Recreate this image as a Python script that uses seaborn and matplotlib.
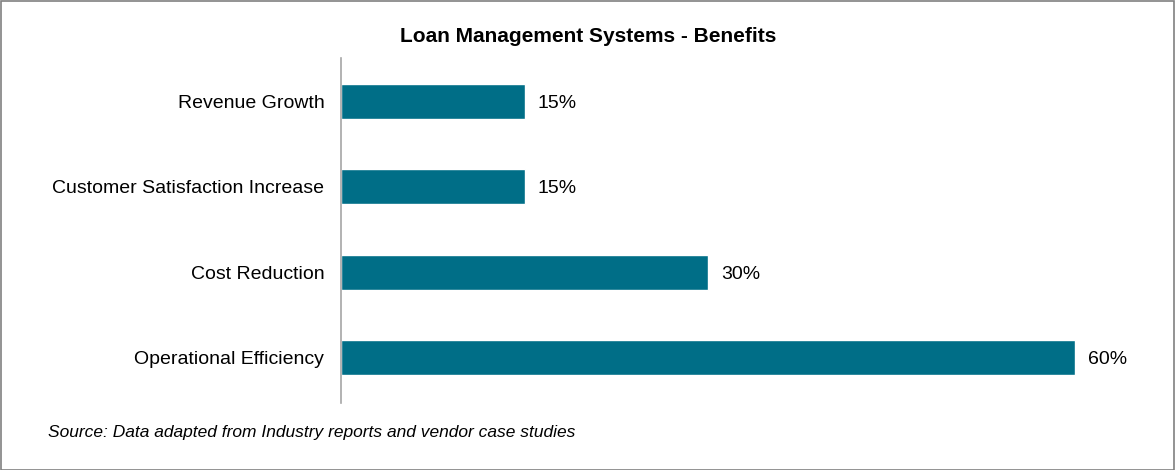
import matplotlib
matplotlib.use("Agg")
import matplotlib.pyplot as plt
import seaborn as sns
import pandas as pd

categories = ["Revenue Growth", "Customer Satisfaction Increase", "Cost Reduction", "Operational Efficiency"]
values = [15, 15, 30, 60]
title = "Loan Management Systems - Benefits"
source = "Source: Data adapted from Industry reports and vendor case studies"

sns.set_theme(style="white")
plt.rcParams["font.family"] = ["Liberation Sans", "DejaVu Sans"]

df = pd.DataFrame({"category": categories, "value": values})

fig = plt.figure(figsize=(11.75, 4.7), dpi=100)
W, H = 1175, 470
ax = fig.add_axes([341 / W, 1 - 403 / H, (1150 - 341) / W, (403 - 58) / H])

sns.barplot(data=df, x="value", y="category", color="#006E87", width=0.41,
            saturation=1, ax=ax, orient="h")

xmax = 60 * (1150 - 341) / (1075 - 341)
ax.set_xlim(0, xmax)
ax.set_ylim(3.53, -0.51)

for i, v in enumerate(values):
    ax.text(v + 1.1, i + 0.02, f"{v}%", va="center", ha="left", fontsize=14, color="black")

ax.set_xlabel("")
ax.set_ylabel("")
ax.set_xticks([])
ax.tick_params(axis="y", length=0, pad=12, labelsize=14, labelcolor="black")
for s in ["top", "right", "bottom"]:
    ax.spines[s].set_visible(False)
ax.spines["left"].set_color("#A6A6A6")
ax.spines["left"].set_linewidth(1.2)

fig.text(588 / W, 1 - 37 / H, title, ha="center", va="center", fontsize=15,
         fontweight="bold", color="black")
fig.text(48 / W, 1 - 433 / H, source, ha="left", va="center", fontsize=12.5,
         style="italic", color="black")

border = plt.Rectangle((0.5 / W, 0.5 / H), 1 - 1.5 / W, 1 - 1.5 / H, transform=fig.transFigure,
                       fill=False, edgecolor="#808080", linewidth=1.2)
fig.patches.append(border)

fig.savefig("out.png", dpi=100)
